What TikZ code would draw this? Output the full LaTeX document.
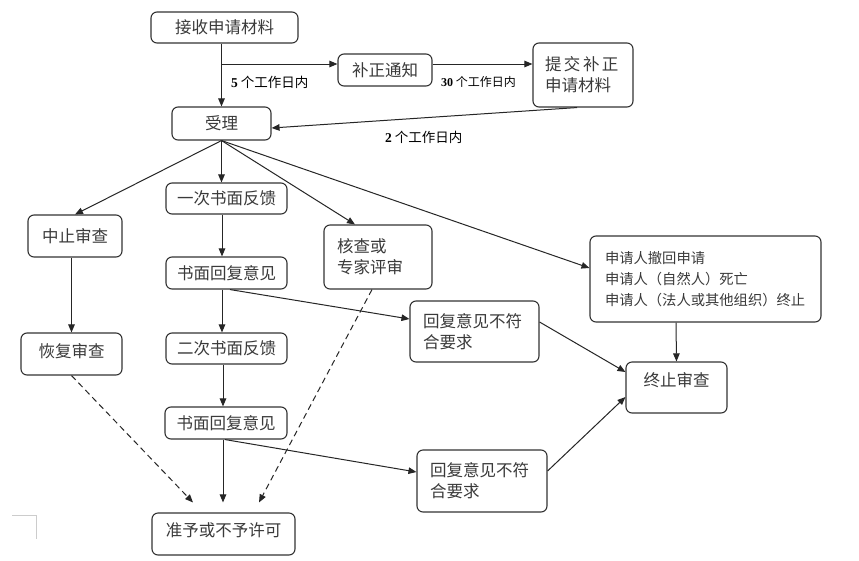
\documentclass[tikz,border=0pt]{standalone}
\usepackage{fontspec}
\newfontfamily\cjk{Noto Sans CJK SC}
\newfontfamily\numfont{Liberation Serif}
\usetikzlibrary{arrows.meta,calc}
\definecolor{boxline}{HTML}{333333}
\definecolor{txt}{HTML}{3A3A3A}
\begin{document}
\begin{tikzpicture}[x=1pt,y=-1pt,
  box/.style 2 args={draw=boxline, line width=1.1pt, rounded corners=6pt, inner sep=0pt,
    text=txt, font=\cjk\fontsize{16.5}{21}\selectfont, minimum width=#1, minimum height=#2},
  up/.style={text height=13.7pt, text depth=#1},
  lbl/.style={inner sep=0pt, anchor=west, text=black, font=\cjk\fontsize{13.5}{16}\selectfont},
  arr/.style={-{Triangle[length=8pt,width=6.5pt]}, line width=1pt, draw=black!85},
  dsh/.style={dash pattern=on 6pt off 4pt}]
\fill[white] (0,0) rectangle (859,560);
\useasboundingbox (0,0) rectangle (859,560);

% corner mark
\draw[black!20, line width=0.8pt] (12,515) -- (36,515) -- (36,539);

% nodes
\node[box={147}{31}] (jieshou) at (224.5,27.5) {接收申请材料};
\node[box={94}{32}] (buzheng) at (385,70) {补正通知};
\node[box={100}{64}, text width=76pt, align=left] (tijiao) at (583,75)
  {\mbox{提\hspace{2.5pt}交\hspace{2.5pt}补\hspace{2.5pt}正}\\申请材料};
\node[box={99}{33}] (shouli) at (221.5,123.5) {受理};
\node[box={94}{42}] (zhongzhi) at (75,236) {中止审查};
\node[box={101}{42}, up=7.2pt] (huifu) at (71.5,354) {恢复审查};
\node[box={121}{31}] (yici) at (226.5,198.5) {一次书面反馈};
\node[box={121}{32}] (shumian1) at (226.5,273) {书面回复意见};
\node[box={121}{31}] (erci) at (226.5,348.5) {二次书面反馈};
\node[box={122}{32}] (shumian2) at (226,423) {书面回复意见};
\node[box={143}{42}, up=9.1pt] (zhunyu) at (223.5,534) {准予或不予许可};
\node[box={108}{64}, text width=82pt, align=left] (hecha) at (378,257) {核查或\\专家评审};
\node[box={129}{61}, text width=103pt, align=left] (bufu1) at (474.5,331.5) {回复意见不符\\合要求};
\node[box={231}{86}, text width=201pt, align=left, font=\cjk\fontsize{14.3}{21}\selectfont] (shenqing) at (705.5,279)
  {申请人撤回申请\\申请人（自然人）死亡\\申请人（法人或其他组织）终止};
\node[box={101}{51}, up=16.1pt] (zhongzhi2) at (676.5,387.5) {终止审查};
\node[box={130}{62}, text width=104pt, align=left] (bufu2) at (482,481) {回复意见不符\\合要求};

% labels
\node[lbl] (l5) at (231,82) {{\numfont\bfseries 5} 个工作日内};
\node[lbl, font=\cjk\fontsize{12}{14}\selectfont] (l30) at (441,82) {{\numfont\bfseries 30} 个工作日内};
\node[lbl] (l2) at (385,137) {{\numfont\bfseries 2} 个工作日内};

% connectors
\coordinate (br) at (221.5,64);
\draw[arr] (jieshou.south -| shouli.north) -- (shouli.north);
\draw[arr] (br) -- (br -| buzheng.west);
\draw[arr] ($(buzheng.east)+(0,-6)$) -- ($(tijiao.west)+(0,-11)$);
\draw[arr] ($(tijiao.south)+(-6,0)$) -- ($(shouli.east)+(0,4.5)$);
\draw[arr] (shouli.south) -- (zhongzhi.north);
\draw[arr] (shouli.south) -- (shouli.south |- yici.north);
\draw[arr] (shouli.south) -- ($(hecha.north)+(-23,0)$);
\draw[arr] (shouli.south) -- ($(shenqing.west)+(0,-11)$);
\draw[arr] ($(yici.south)+(-4.5,0)$) -- ($(shumian1.north)+(-4.5,0)$);
\draw[arr] ($(shumian1.south)+(-4.5,0)$) -- ($(erci.north)+(-4.5,0)$);
\draw[arr] ($(erci.south)+(-3.5,0)$) -- ($(shumian2.north)+(-3,0)$);
\draw[arr] ($(shumian2.south)+(-3,0)$) -- ($(zhunyu.north)+(-0.5,-10)$);
\draw[arr] (zhongzhi.south -| huifu.north) -- (huifu.north);
\draw[arr] ($(shumian1.south)+(3.5,0)$) -- ($(bufu1.west)+(0,-12.5)$);
\draw[arr] ($(shumian2.south)+(-1,0)$) -- ($(bufu2.west)+(0,-9)$);
\draw[arr] ($(bufu1.east)+(0,-9.5)$) -- ($(zhongzhi2.west)+(0,-15.5)$);
\draw[arr] ($(bufu2.east)+(0,-10)$) -- ($(zhongzhi2.west)+(0,9.5)$);
\draw[arr] ($(shenqing.south)+(-29.5,0)$) -- (zhongzhi2.north);
\draw[arr, dsh] (huifu.south) -- ($(zhunyu.north)+(-30.5,-10)$);
\draw[arr, dsh] ($(hecha.south)+(-6,0)$) -- ($(zhunyu.north)+(35.5,-10)$);
\end{tikzpicture}
\end{document}
